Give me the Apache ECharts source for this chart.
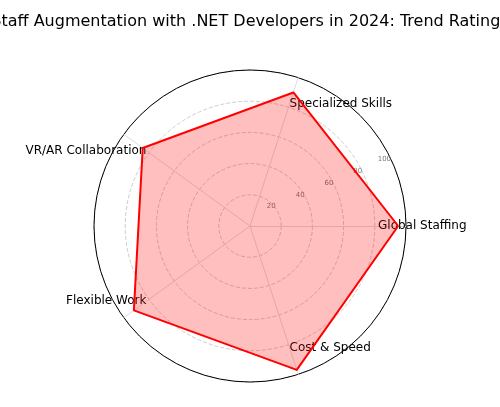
<!DOCTYPE html><html><head><meta charset="utf-8"><script src="https://cdn.jsdelivr.net/npm/echarts@6/dist/echarts.min.js"></script>
<style>html,body{margin:0;padding:0;background:#fff}#c{width:500px;height:407px}</style></head><body><div id="c"></div><script>
const categories=['Global Staffing','Specialized Skills','VR/AR Collaboration','Flexible Work','Cost & Speed'];
const values=[95,90,85,92,97];
const ticks=[20,40,60,80,100];
const chart=echarts.init(document.getElementById('c'));
chart.setOption({
 animation:false,
 title:{text:'Staff Augmentation with .NET Developers in 2024: Trend Ratings',left:'center',top:9,textStyle:{fontFamily:'DejaVu Sans',fontSize:16,fontWeight:'normal',color:'#000'}},
 polar:{center:[250,226],radius:156},
 angleAxis:{startAngle:22.5,min:0,max:360,axisLine:{show:true,lineStyle:{color:'#000',width:1}},axisTick:{show:false},axisLabel:{show:false},splitLine:{show:false}},
 radiusAxis:{min:0,max:100,interval:20,axisLine:{show:false},axisTick:{show:false},splitLine:{show:false},
  axisLabel:{fontSize:7,color:'#777',fontFamily:'DejaVu Sans',formatter:v=>ticks.includes(v)?String(v):''}},
 radar:{center:[250,226],radius:156,startAngle:0,shape:'circle',splitNumber:5,
  indicator:categories.map(n=>({name:n,max:100,min:0})),
  axisName:{color:'#000',fontSize:12,fontFamily:'DejaVu Sans'},nameGap:-28,
  splitLine:{lineStyle:{color:'#ccc',type:'dashed'}},splitArea:{show:false},
  axisLine:{lineStyle:{color:'#ddd'}}},
 series:[{type:'radar',symbol:'none',data:[{value:values}],lineStyle:{color:'#ff0000',width:2},areaStyle:{color:'rgba(255,0,0,0.25)',opacity:1}}]
});
</script></body></html>
